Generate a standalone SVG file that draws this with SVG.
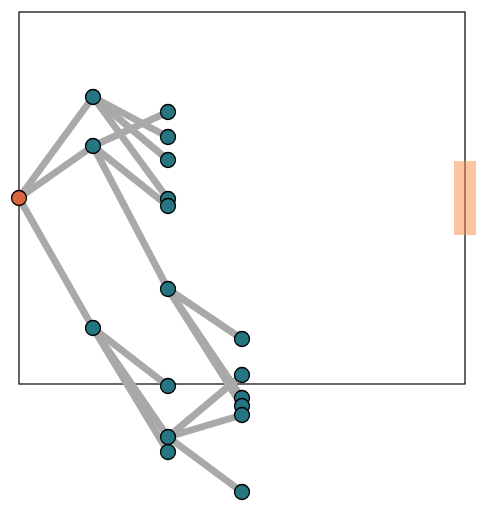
<svg xmlns="http://www.w3.org/2000/svg" width="488" height="512" viewBox="0 0 488 512">
<style>
.e{stroke:#a9a9a9;stroke-width:7;fill:none}
.n{fill:#267582;stroke:#000;stroke-width:1.3}
.r{fill:#d9663f;stroke:#000;stroke-width:1.3}
</style>
<rect x="0" y="0" width="488" height="512" fill="#fff"/>
<rect x="19" y="12" width="446" height="372" fill="none" stroke="#000" stroke-width="1.2"/>
<rect x="454" y="161" width="22" height="74" fill="#f98a48" fill-opacity="0.5"/>
<g id="connectors">
<line class="e" x1="19" y1="198" x2="93" y2="97"/>
<line class="e" x1="19" y1="198" x2="93" y2="146"/>
<line class="e" x1="19" y1="198" x2="93" y2="328"/>
<line class="e" x1="93" y1="97" x2="168" y2="137"/>
<line class="e" x1="93" y1="97" x2="168" y2="160"/>
<line class="e" x1="93" y1="97" x2="168" y2="199"/>
<line class="e" x1="93" y1="146" x2="168" y2="112"/>
<line class="e" x1="93" y1="146" x2="168" y2="206"/>
<line class="e" x1="93" y1="146" x2="168" y2="289"/>
<line class="e" x1="168" y1="289" x2="242" y2="339"/>
<line class="e" x1="168" y1="289" x2="242" y2="398"/>
<line class="e" x1="168" y1="289" x2="242" y2="406"/>
<line class="e" x1="93" y1="328" x2="168" y2="386"/>
<line class="e" x1="93" y1="328" x2="168" y2="437"/>
<line class="e" x1="93" y1="328" x2="168" y2="452"/>
<line class="e" x1="168" y1="437" x2="242" y2="375"/>
<line class="e" x1="168" y1="437" x2="242" y2="415"/>
<line class="e" x1="168" y1="437" x2="242" y2="492"/>
</g>
<g id="root"><circle class="r" cx="19" cy="198" r="7.5"/></g>
<g id="a"><circle class="n" cx="93" cy="97" r="7.5"/></g>
<g id="b"><circle class="n" cx="93" cy="146" r="7.5"/></g>
<g id="c"><circle class="n" cx="93" cy="328" r="7.5"/></g>
<g id="a1"><circle class="n" cx="168" cy="112" r="7.5"/></g>
<g id="a2"><circle class="n" cx="168" cy="137" r="7.5"/></g>
<g id="a3"><circle class="n" cx="168" cy="160" r="7.5"/></g>
<g id="a4"><circle class="n" cx="168" cy="199" r="7.5"/></g>
<g id="b1"><circle class="n" cx="168" cy="206" r="7.5"/></g>
<g id="d"><circle class="n" cx="168" cy="289" r="7.5"/></g>
<g id="c1"><circle class="n" cx="168" cy="386" r="7.5"/></g>
<g id="c2"><circle class="n" cx="168" cy="452" r="7.5"/></g>
<g id="c3"><circle class="n" cx="168" cy="437" r="7.5"/></g>
<g id="d1"><circle class="n" cx="242" cy="339" r="7.5"/></g>
<g id="e1"><circle class="n" cx="242" cy="375" r="7.5"/></g>
<g id="d2"><circle class="n" cx="242" cy="398" r="7.5"/></g>
<g id="d3"><circle class="n" cx="242" cy="406" r="7.5"/></g>
<g id="e2"><circle class="n" cx="242" cy="415" r="7.5"/></g>
<g id="e3"><circle class="n" cx="242" cy="492" r="7.5"/></g>
</svg>
